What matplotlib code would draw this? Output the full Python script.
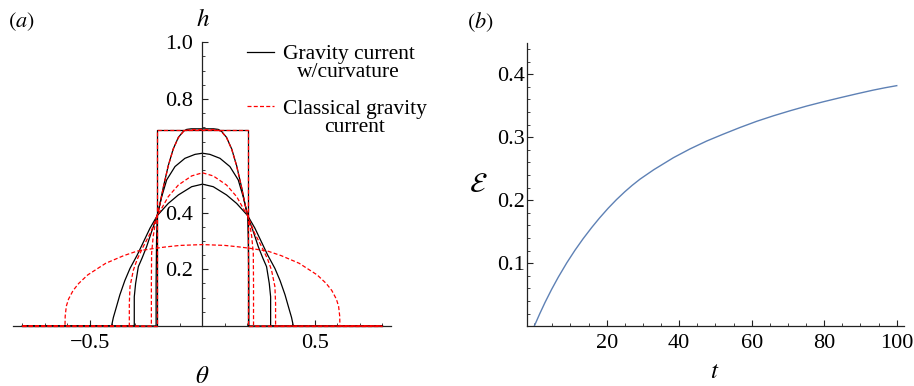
import numpy as np
import matplotlib
matplotlib.use('Agg')
import matplotlib.pyplot as plt
from matplotlib.ticker import MultipleLocator, FixedLocator
from matplotlib.legend_handler import HandlerLine2D

plt.rcParams['font.family'] = ['Liberation Serif', 'DejaVu Serif']
plt.rcParams['mathtext.fontset'] = 'stix'

# ---- panel (a): half profiles h(theta), theta >= 0 (mirrored) ----
theta_0 = [0, 0.204, 0.204, 0.8]
h_0 = [0.69, 0.69, 0, 0]

# gravity current w/ curvature (black)
theta_b1 = [0, 0.05, 0.07, 0.085, 0.107, 0.13, 0.152, 0.174, 0.189, 0.201, 0.204, 0.206, 0.206, 0.8]
h_b1 = [0.695, 0.695, 0.693, 0.686, 0.665, 0.624, 0.565, 0.489, 0.43, 0.389, 0.30, 0.15, 0, 0]
theta_b2 = [0, 0.033, 0.078, 0.122, 0.159, 0.181, 0.201, 0.225, 0.248, 0.268, 0.285, 0.297, 0.303, 0.303, 0.8]
h_b2 = [0.609, 0.605, 0.591, 0.562, 0.515, 0.456, 0.389, 0.335, 0.28, 0.24, 0.209, 0.15, 0.103, 0, 0]
theta_b3 = [0, 0.048, 0.107, 0.152, 0.201, 0.233, 0.263, 0.29, 0.322, 0.345, 0.367, 0.385, 0.396, 0.404, 0.8]
h_b3 = [0.50, 0.491, 0.462, 0.432, 0.389, 0.345, 0.295, 0.25, 0.203, 0.16, 0.11, 0.06, 0.03, 0, 0]

# classical gravity current (red dashed)
theta_r1 = [0, 0.05, 0.07, 0.085, 0.107, 0.13, 0.152, 0.174, 0.189, 0.201, 0.212, 0.219, 0.226, 0.227, 0.227, 0.8]
h_r1 = [0.692, 0.692, 0.69, 0.685, 0.664, 0.623, 0.564, 0.488, 0.43, 0.389, 0.35, 0.315, 0.256, 0.15, 0, 0]
theta_r2 = [0, 0.048, 0.107, 0.152, 0.181, 0.201, 0.23, 0.263, 0.29, 0.307, 0.322, 0.325, 0.325, 0.8]
h_r2 = [0.54, 0.529, 0.497, 0.456, 0.415, 0.389, 0.33, 0.28, 0.235, 0.197, 0.139, 0.08, 0, 0]
theta_r3 = [0, 0.1, 0.16, 0.21, 0.29, 0.35, 0.43, 0.51, 0.55, 0.575, 0.595, 0.605, 0.61, 0.611, 0.8]
h_r3 = [0.287, 0.284, 0.279, 0.274, 0.264, 0.248, 0.221, 0.18, 0.15, 0.125, 0.095, 0.07, 0.035, 0, 0]

legend_labels = ['Gravity current\nw/curvature', 'Classical gravity\ncurrent']

# ---- panel (b): E(t) ----
t_E = [0, 1.5, 3, 4.8, 6.65, 9, 11.25, 13.5, 15.9, 18, 20.4, 22.7, 25, 27, 29.2, 33,
       38.4, 43, 47.6, 52, 56.8, 61.4, 66, 70.6, 75.2, 79.8, 84.4, 89, 93.5, 96.8, 100]
E = [0, 0.0195, 0.038, 0.0585, 0.078, 0.1008, 0.1207, 0.139, 0.157, 0.1717, 0.1873,
     0.201, 0.2135, 0.2235, 0.2335, 0.2485, 0.2675, 0.2815, 0.294, 0.3045, 0.3155,
     0.3253, 0.334, 0.342, 0.3495, 0.3563, 0.3627, 0.3689, 0.3747, 0.3785, 0.3818]


def mirror(th, h):
    th = np.asarray(th, float)
    h = np.asarray(h, float)
    return np.concatenate([-th[::-1], th[1:]]), np.concatenate([h[::-1], h[1:]])


class FirstLineHandler(HandlerLine2D):
    # put the legend line next to the first text line, not the middle
    def create_artists(self, legend, orig_handle, xdescent, ydescent, width, height,
                       fontsize, trans):
        arts = super().create_artists(legend, orig_handle, xdescent, ydescent, width,
                                      height, fontsize, trans)
        for a in arts:
            a.set_ydata(np.asarray(a.get_ydata(), float) + 8.3)
        return arts


axcol = '#222222'
fig = plt.figure(figsize=(9.14, 3.86), dpi=100)

# (a)
ax1 = fig.add_axes([13/914, 60/386, 378/914, 283.7/386])
lw = 0.9
blk = dict(color='black', lw=lw, clip_on=False, zorder=2)
red = dict(color='red', lw=lw, ls=(0, (3.2, 1.8)), clip_on=False, zorder=3)
for th, h in [(theta_0, h_0), (theta_b1, h_b1), (theta_b2, h_b2), (theta_b3, h_b3)]:
    x, y = mirror(th, h)
    lb, = ax1.plot(x, y, **blk)
for th, h in [(theta_0, h_0), (theta_r1, h_r1), (theta_r2, h_r2), (theta_r3, h_r3)]:
    x, y = mirror(th, h)
    lr, = ax1.plot(x, y, **red)

ax1.set_xlim(-0.842, 0.838)
ax1.set_ylim(0, 1.0)
for s in ['top', 'right']:
    ax1.spines[s].set_visible(False)
ax1.spines['left'].set_position(('data', 0))
for s in ['left', 'bottom']:
    ax1.spines[s].set_color(axcol)
    ax1.spines[s].set_linewidth(0.9)
ax1.xaxis.set_major_locator(FixedLocator([-0.5, 0.5]))
ax1.xaxis.set_minor_locator(MultipleLocator(0.1))
ax1.yaxis.set_major_locator(FixedLocator([0.2, 0.4, 0.8, 1.0]))
ax1.yaxis.set_minor_locator(MultipleLocator(0.05))
ax1.set_xticklabels(['\u22120.5', '0.5'])
ax1.set_yticklabels(['0.2', '0.4', '0.8', '1.0'])
ax1.tick_params(which='both', direction='in', colors=axcol, labelsize=16, labelcolor='black')
ax1.tick_params(which='major', length=4, width=0.8)
ax1.tick_params(which='minor', length=2, width=0.6)
ax1.tick_params(axis='y', pad=6.5)
ax1.tick_params(axis='x', pad=5.5)
ax1.set_ylabel(r'$h$', rotation=0, fontsize=18)
ax1.yaxis.set_label_coords(0.5026, 1.078)
ax1.set_xlabel(r'$\theta$', fontsize=18)
ax1.xaxis.set_label_coords(0.5, -0.179)
ax1.yaxis.label.set_va('center')
ax1.xaxis.label.set_va('center')

leg = ax1.legend([lb, lr], legend_labels,
                 loc='upper left', bbox_to_anchor=(0.618, 0.99), frameon=False,
                 borderpad=0, borderaxespad=0, handlelength=1.28, handletextpad=0.4,
                 labelspacing=0.8, fontsize=15.5,
                 handler_map={lb: FirstLineHandler(), lr: FirstLineHandler()})
for txt in leg.get_texts():
    txt.set_multialignment('center')
    txt.set_linespacing(0.95)

# (b)
ax2 = fig.add_axes([527.3/914, 59.7/386, 376.7/914, 283/386])
ax2.plot(t_E, E, color='#5E81B5', lw=1.0)
ax2.set_xlim(-1.9, 102)
ax2.set_ylim(0, 0.449)
for s in ['top', 'right']:
    ax2.spines[s].set_visible(False)
for s in ['left', 'bottom']:
    ax2.spines[s].set_color(axcol)
    ax2.spines[s].set_linewidth(0.9)
ax2.xaxis.set_major_locator(FixedLocator([20, 40, 60, 80, 100]))
ax2.xaxis.set_minor_locator(MultipleLocator(5))
ax2.yaxis.set_major_locator(FixedLocator([0.1, 0.2, 0.3, 0.4]))
ax2.yaxis.set_minor_locator(MultipleLocator(0.02))
ax2.tick_params(which='both', direction='in', colors=axcol, labelsize=16, labelcolor='black')
ax2.tick_params(which='major', length=4, width=0.8)
ax2.tick_params(which='minor', length=2, width=0.6)
ax2.tick_params(axis='y', pad=2)
ax2.tick_params(axis='x', pad=5.5)
ax2.set_ylabel(r'$\mathcal{E}$', rotation=0, fontsize=20)
ax2.yaxis.set_label_coords(-0.130, 0.499)
ax2.set_xlabel(r'$t$', fontsize=18)
ax2.xaxis.set_label_coords(0.498, -0.160)
ax2.yaxis.label.set_va('center')
ax2.xaxis.label.set_va('center')

fig.text(21.7/914, 1 - 21.7/386, r'$(\mathit{a})$', fontsize=16, ha='center', va='center')
fig.text(480/914, 1 - 21.7/386, r'$(\mathit{b})$', fontsize=16, ha='center', va='center')

fig.savefig('out.png', dpi=100)
